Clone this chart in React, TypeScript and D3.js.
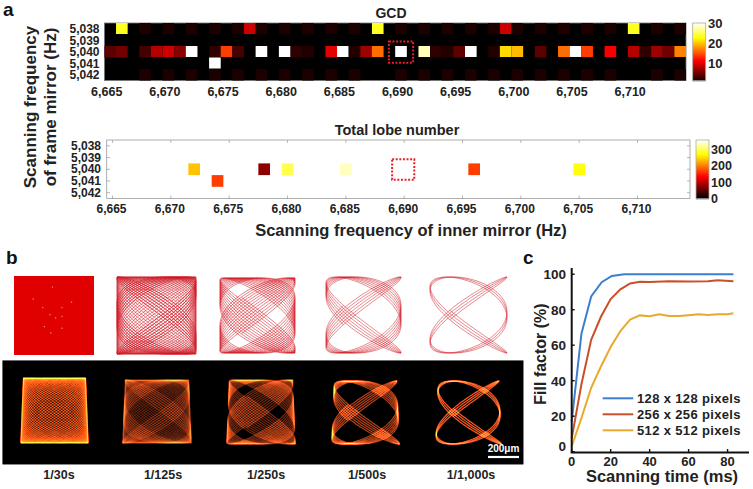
import React from "react";
import * as d3 from "d3";

const W = 753, H = 489;
const innerFreqs = d3.range(6665, 6715);
const frameFreqs = [5038, 5039, 5040, 5041, 5042];
const xTicks = [6665, 6670, 6675, 6680, 6685, 6690, 6695, 6700, 6705, 6710];

// GCD values, row 5,040 from 6,665 Hz upward
const gcd5040 = [4,5,0,3,8,9,6,30,0,2,14,3,0,30,0,30,2,1.5,0,10,30,1.5,7,16,0,30,0,28,2,1.5,4,30,0,1.5,21,19.5,0,4,0,16,30,14,0,11,0,8,2,7,5,17];
const gcd5038Peaks: [number, number][] = [[6666,23.5],[6677,9],[6688,23.5],[6699,9],[6710,23.5]];
const gcd5041Peaks: [number, number][] = [[6674,30]];
const faintFreqs = [6668,6670,6672,6674,6676,6678,6680,6682,6684,6686,6690,6692,6694,6696,6698,6700,6702,6704,6706,6708,6712,6714];
const faintValue = 1.3;

const lobeFreq = [6672,6674,6678,6680,6685,6696,6705];
const lobeRow = [5040,5041,5040,5040,5040,5040,5040];
const lobeValue = [235,165,73,293,333,165,270];

const gcdBarTicks = [10,20,30];
const lobeBarTicks = [0,100,200,300];

// panel b: exposure (fraction of a second) and the strand spacing seen in the drawings
const exposures = [1/30, 1/125, 1/250, 1/500, 1/1000];
const exposureLabels = ["1/30s","1/125s","1/250s","1/500s","1/1,000s"];
const scanInner = 6660, scanFrame = 5040;
const phase = Math.PI/2;
const drawBoxes = [[14,276,94,355],[116,276,197,355],[219,277,296,354],[325,276,402,354],[429,276,508,354]];
const photoBoxes = [[21,377,88,444],[123,379,191,444],[227,379,295,445],[332,380,399,445],[436,380,501,445]];
const drawWidths = [1.1,0.65,0.65,0.6,0.6];
const glow = [24,55,110,180,250];
const captionX = [59,163,266,367,471];
// white specks in the first drawing, as fractions of its box
const speckX = [0.24,0.36,0.48,0.6,0.72,0.45,0.52,0.6,0.38,0.6,0.46];
const speckY = [0.29,0.4,0.14,0.4,0.33,0.49,0.53,0.51,0.64,0.66,0.72];
const captionY = 478.5;

// panel c
const time128 = [0,5,10,15.4,20.6,27,83];
const fill128 = [17,66.5,87.5,95.5,99,100,100];
const time256 = [0,5,10,15,20,25,30,35,40,50,60,70,75,83];
const fill256 = [7.5,38,63,76,86,91.5,94.8,95.7,95.6,96,95.9,96,96.6,96];
const time512 = [0,5,10,15,20,25,30,35,40,45,50,55,60,65,70,75,80,83];
const fill512 = [3,19,36,48,59,68,74.5,76.8,76.3,77.4,76.5,76.4,76.9,77.4,77,77.5,77.4,78];
const legendNames = ["128 x 128 pixels","256 x 256 pixels","512 x 512 pixels"];
const lineColors = ["#3c7fd0","#c8502a","#e8a92d"];
const cXTicks = [0,20,40,60,80];
const cYTicks = [0,20,40,60,80,100];

const hot = d3.scaleLinear<string>().domain([0,0.375,0.75,1]).range(["#000000","#ff0000","#ffff00","#ffffff"]).clamp(true);
const font = "'Liberation Sans', Arial, sans-serif";
const ink = "#222";

const x1 = d3.scaleLinear().domain([6664.5,6714.5]).range([104.4,686]);
const y1 = d3.scaleLinear().domain([5037.5,5042.5]).range([23,80.5]);
const x2 = d3.scaleLinear().domain([6664.5,6714.5]).range([106.7,690]);
const y2 = d3.scaleLinear().domain([5037.5,5042.5]).range([140,198.5]);
const bar1 = d3.scaleLinear().domain([1.3,30]).range([80.5,23]);
const bar2 = d3.scaleLinear().domain([0,355]).range([198.5,140]);
const cx = d3.scaleLinear().domain([0,91]).range([571.7,749]);
const cy = d3.scaleLinear().domain([0,103.5]).range([451.7,268]);

function curve(from: number, to: number, box: number[], key: number) {
  const [a,b,c,d] = box;
  const sx = d3.scaleLinear().domain([-1,1]).range([a+1,c-1]);
  const sy = d3.scaleLinear().domain([-1,1]).range([d-1,b+1]);
  const n = Math.max(2, Math.ceil((to-from)*scanInner*60));
  const ts = d3.range(n+1).map(i => from + (to-from)*i/n);
  return d3.line<number>()
    .x(t => {
      const Y = Math.sin(2*Math.PI*scanFrame*t);
      const X = Math.sin(2*Math.PI*scanInner*t + phase);
      return sx(X*(1 - key*Y));
    })
    .y(t => sy(Math.sin(2*Math.PI*scanFrame*t)))(ts) as string;
}

function Scan({i}: {i:number}) {
  const T = exposures[i];
  return <path d={curve(-T/2, T/2, drawBoxes[i], 0)} fill="none" stroke="#d01822" strokeWidth={drawWidths[i]} strokeOpacity={0.85} />;
}
function Photo({i}: {i:number}) {
  const T = exposures[i];
  const chunks = Math.max(4, Math.ceil(T*scanInner*2));
  const g = glow[i];
  const col = `rgb(${g},${Math.round(g*0.36)},${Math.round(g*0.14)})`;
  return <g>{d3.range(chunks).map(k => (
    <path key={k} d={curve(-T/2+T*k/chunks, -T/2+T*(k+1)/chunks, photoBoxes[i], 0.04)} fill="none"
      stroke={col} strokeWidth={1.2} style={{mixBlendMode:"plus-lighter"}} />
  ))}</g>;
}

const dotted = {fill:"none", stroke:"#e8202a", strokeWidth:2, strokeDasharray:"2 1.6"};

export default function App() {
  const gcdCells: {f:number;r:number;v:number}[] = [];
  innerFreqs.forEach((f,i) => { if (gcd5040[i] > 0) gcdCells.push({f,r:5040,v:gcd5040[i]}); });
  gcd5038Peaks.forEach(([f,v]) => gcdCells.push({f,r:5038,v}));
  gcd5041Peaks.forEach(([f,v]) => gcdCells.push({f,r:5041,v}));
  faintFreqs.forEach(f => { gcdCells.push({f,r:5038,v:faintValue}); gcdCells.push({f,r:5042,v:faintValue}); });
  const w1 = x1(1)-x1(0), h1 = y1(1)-y1(0), w2 = x2(1)-x2(0), h2 = y2(1)-y2(0);
  const lineGen = d3.line<number>();
  const series = [[time128,fill128],[time256,fill256],[time512,fill512]];
  const label = (extra: any) => ({fontFamily:font,fontWeight:700,fill:ink,...extra});
  const b0 = drawBoxes[0];
  return (
    <svg width={W} height={H} style={{position:"absolute",left:0,top:0,background:"#fff"}}>
      <defs>
        <filter id="soft" x="-5%" y="-5%" width="110%" height="110%"><feGaussianBlur stdDeviation="0.45"/></filter>
        <filter id="soft2" x="-5%" y="-5%" width="110%" height="110%"><feGaussianBlur stdDeviation="0.65"/></filter>
        <filter id="cellb" x="-5%" y="-5%" width="110%" height="110%"><feGaussianBlur stdDeviation="0.35"/></filter>
      </defs>

      {/* panel a, GCD */}
      <text {...label({x:3,y:16,fontSize:19,fill:"#111"})}>a</text>
      <text {...label({x:391,y:18,fontSize:14,textAnchor:"middle"})}>GCD</text>
      <rect x={x1.range()[0]} y={23} width={x1.range()[1]-x1.range()[0]} height={57.5} fill="#000" stroke="#777" strokeWidth={0.8}/>
      <g filter="url(#cellb)">
        {gcdCells.map((c,i) => <rect key={i} x={x1(c.f-0.5)} y={y1(c.r-0.5)} width={w1} height={h1-(c.v>5?0.5:0)} fill={hot(c.v/30)}/>)}
      </g>
      <rect x={x1(6689)-0.5} y={y1(5039.1)} width={x1(6691)-x1(6689)+1} height={y1(5040.95)-y1(5039.1)} {...dotted}/>
      {frameFreqs.map(r => <text key={r} {...label({x:99.5,y:y1(r)+4.3,fontSize:12,textAnchor:"end"})}>{d3.format(",")(r)}</text>)}
      {xTicks.map(f => <text key={f} {...label({x:x1(f)-3.5,y:96,fontSize:12.5,textAnchor:"middle"})}>{d3.format(",")(f)}</text>)}
      {d3.range(58).map(i => <rect key={i} x={692.7} y={23+i} width={13} height={1.2} fill={hot(bar1.invert(23+i+0.5)/30)}/>)}
      <rect x={692.7} y={23} width={13} height={57.5} fill="none" stroke="#aaa" strokeWidth={0.8}/>
      {gcdBarTicks.map(v => <text key={v} {...label({x:708,y:bar1(v)+4.5,fontSize:13})}>{v}</text>)}

      {/* panel a, lobes */}
      <text {...label({x:397,y:135,fontSize:14.5,textAnchor:"middle"})}>Total lobe number</text>
      <rect x={106.7} y={140} width={583.3} height={58.5} fill="#fff" stroke="#999" strokeWidth={0.8}/>
      {xTicks.map(f => <g key={f} stroke="#999" strokeWidth={0.7}>
        <line x1={x2(f)} x2={x2(f)} y1={140} y2={143}/><line x1={x2(f)} x2={x2(f)} y1={198.5} y2={195.5}/>
      </g>)}
      {frameFreqs.map(r => <g key={r} stroke="#999" strokeWidth={0.7}>
        <line x1={106.7} x2={110} y1={y2(r)} y2={y2(r)}/><line x1={690} x2={687} y1={y2(r)} y2={y2(r)}/>
      </g>)}
      <g filter="url(#cellb)">
        {lobeFreq.map((f,i) => <rect key={f} x={x2(f-0.5)} y={y2(lobeRow[i]-0.5)} width={w2} height={h2} fill={hot(lobeValue[i]/355)}/>)}
      </g>
      <rect x={x2(6689)-0.4} y={y2(5039.15)} width={x2(6690.9)-x2(6689)} height={y2(5040.9)-y2(5039.15)} {...dotted}/>
      {frameFreqs.map(r => <text key={r} {...label({x:101,y:y2(r)+4,fontSize:12,textAnchor:"end"})}>{d3.format(",")(r)}</text>)}
      {xTicks.map(f => <text key={f} {...label({x:x2(f)-1,y:213,fontSize:12,textAnchor:"middle"})}>{d3.format(",")(f)}</text>)}
      {d3.range(59).map(i => <rect key={i} x={696} y={140+i} width={13} height={1.2} fill={hot(bar2.invert(140+i+0.5)/355)}/>)}
      <rect x={696} y={140} width={13} height={58.5} fill="none" stroke="#aaa" strokeWidth={0.8}/>
      {lobeBarTicks.map(v => <text key={v} {...label({x:711,y:bar2(v)+4.5,fontSize:12.5})}>{v}</text>)}

      <text {...label({x:411,y:236,fontSize:16.5,textAnchor:"middle"})}>Scanning frequency of inner mirror (Hz)</text>
      <text {...label({fontSize:17,textAnchor:"middle",transform:"translate(36,107) rotate(-90)"})}>Scanning frequency</text>
      <text {...label({fontSize:17,textAnchor:"middle",transform:"translate(56,107) rotate(-90)"})}>of frame mirror (Hz)</text>

      {/* panel b */}
      <text {...label({x:6,y:264,fontSize:19,fill:"#111"})}>b</text>
      <g filter="url(#soft)">
        <rect x={b0[0]} y={b0[1]} width={b0[2]-b0[0]} height={b0[3]-b0[1]} fill="#e00606"/>
        {speckX.map((f,i) => <circle key={i} cx={b0[0]+f*(b0[2]-b0[0])} cy={b0[1]+speckY[i]*(b0[3]-b0[1])} r={0.6} fill="#f6b0a0"/>)}
        {exposures.map((_,i) => i===0 ? null : <Scan key={i} i={i}/>)}
      </g>
      <rect x={2.7} y={360.7} width={520.5} height={103.5} fill="#000" stroke="#888" strokeWidth={0.6}/>
      <g filter="url(#soft2)" style={{isolation:"isolate"}}>
        <rect x={2.7} y={360.7} width={520.5} height={103.5} fill="#000"/>
        {exposures.map((_,i) => <Photo key={i} i={i}/>)}
      </g>
      <line x1={488} x2={519} y1={457} y2={457} stroke="#fff" strokeWidth={2.2}/>
      <text x={503.5} y={452} fontFamily={font} fontWeight={700} fontSize={10} fill="#fff" textAnchor="middle">200μm</text>
      {exposureLabels.map((s,i) => <text key={s} {...label({x:captionX[i],y:captionY,fontSize:12.5,textAnchor:"middle"})}>{s}</text>)}

      {/* panel c */}
      <text {...label({x:523,y:264,fontSize:19,fill:"#111"})}>c</text>
      {series.map(([t,v],i) => <path key={i} d={lineGen(t.map((d,k) => [cx(d),cy(v[k])]) as [number,number][]) as string} fill="none" stroke={lineColors[i]} strokeWidth={2}/>)}
      <line x1={cx(0)} x2={cx(0)} y1={268} y2={452.5} stroke="#111" strokeWidth={2}/>
      <line x1={cx(0)-1} x2={749} y1={452.5} y2={452.5} stroke="#111" strokeWidth={2}/>
      {cYTicks.map(v => <g key={v}>
        <line x1={cx(0)} x2={cx(0)+3} y1={cy(v)} y2={cy(v)} stroke="#111" strokeWidth={1.4}/>
        <text {...label({x:566,y:(v===0?446:cy(v))+4.8,fontSize:13.5,textAnchor:"end"})}>{v}</text>
      </g>)}
      {cXTicks.map(v => <g key={v}>
        <line x1={cx(v)} x2={cx(v)} y1={452} y2={449} stroke="#111" strokeWidth={1.4}/>
        <text {...label({x:cx(v),y:465.5,fontSize:13,textAnchor:"middle"})}>{v}</text>
      </g>)}
      {legendNames.map((s,i) => <g key={s}>
        <line x1={602.7} x2={633.3} y1={398.3+16*i} y2={398.3+16*i} stroke={lineColors[i]} strokeWidth={2}/>
        <text {...label({x:637,y:403+16*i,fontSize:13,letterSpacing:0.35})}>{s}</text>
      </g>)}
      <text {...label({x:662,y:482,fontSize:16.5,textAnchor:"middle"})}>Scanning time (ms)</text>
      <text {...label({fontSize:16,textAnchor:"middle",transform:"translate(546,354) rotate(-90)"})}>Fill factor (%)</text>
    </svg>
  );
}
